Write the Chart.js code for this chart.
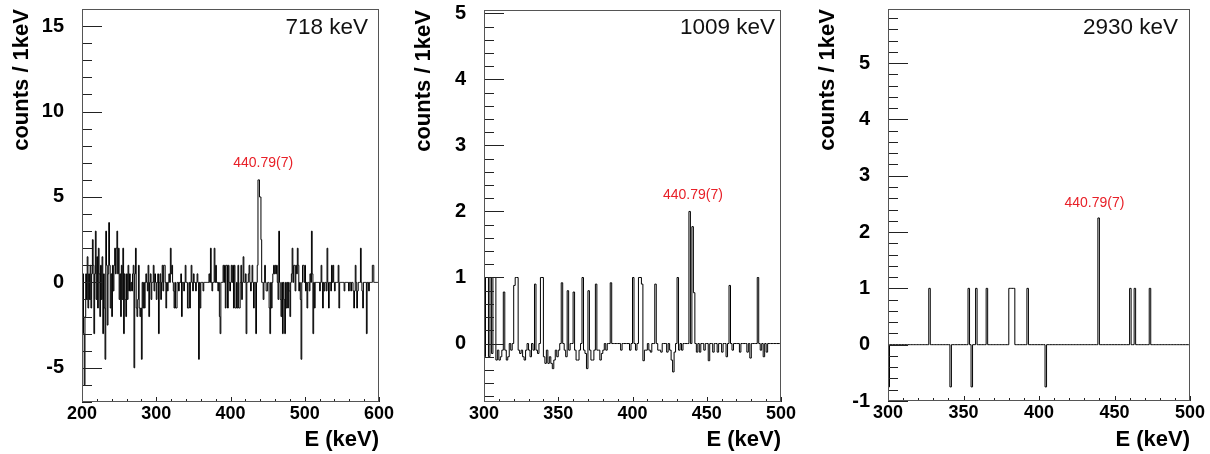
<!DOCTYPE html>
<html>
<head>
<meta charset="utf-8">
<script src="https://cdn.jsdelivr.net/npm/chart.js@4.4.1/dist/chart.umd.min.js"></script>
<style>
html, body { margin: 0; padding: 0; background: #fff; }
body { width: 1210px; height: 454px; position: relative; overflow: hidden; }
canvas { position: absolute; top: 0; }
</style>
</head>
<body>
<canvas id="c1" width="400" height="454" style="left:0px"></canvas>
<canvas id="c2" width="400" height="454" style="left:400px"></canvas>
<canvas id="c3" width="405" height="454" style="left:805px"></canvas>
<script>
// gated spectra, 1 keV bins, first bin starts at startX
const startA = 200;
const countsA = [
  -1.5, 0.5, -3, -6, -2, 0.5, -1, 1.5, -1.5, 0.5, -1, 1, -1.5, 0.5, 2.5, 1, -3, 0.5, 3, -1,      // 200
  1.5, -1.5, 2, 0.5, -2, 1, -1, 1.5, -3, 0.5, -1.5, -4.5, 3, 1, -2.5, 0.5, 3.5, 1, -1.5, 0.5,    // 220
  -2, 1, -0.5, 1, 2, 0.5, 2, 3, 0.5, 2, -1, 0.5, -2, 1, -1, 2, -3, 0.5, -1, -2,                  // 240
  0.5, -1, 1, -0.5, 0.5, -0.5, 0, -0.5, 0.5, 1, -5, 0.5, 2, -1.5, -2, -1, 1, -1.5, -2, -1.5,     // 260
  -4.5, 0, -1.5, 0, -1.5, 0, 0.5, 0, -0.5, 1, -2, 0, 0.5, -1, 0, 0, 1, -0.5, 0.5, 0,             // 280
  -1, 0, 0.5, -3, 0, 0.5, -1, 0, 1, -0.5, 1, 1, 0, -1.5, 0, -0.5, 0, 0.5, 0, 2,                  // 300
  0.5, 1, 0, -0.5, -1.5, 0, -1.5, -1.5, 0, 0, -0.5, 0, 0, 0.5, -2, 0, 0, -0.5, 0, 1,             // 320
  0, 0, -1.5, -1.5, 0, -1.5, 0, 1, 0, -0.5, 0.5, 0, 0, -0.5, 0, 0.5, 0, -4.5, 0, -1.5,           // 340
  0, 0, 0, -0.5, 0, 0, 0, 0, 0, 0, 0, 0.5, 0, 2, 0, -0.5, 0, 0, 2, 0,                            // 360
  1, 0, 0, -0.5, 0, -2, -3, 0, 0, 0, 1, 0, 1, -1.5, 1, 1, -1.5, 1, 0, -0.5,                      // 380
  0, 1, 0, 1, -1.5, 1, -1.5, -1.5, 0, -1.5, 1, -1.5, -1.5, 0, 1, -1, 0, 1.5, 0, 0,               // 400
  0.5, -3, 0, 0, 0.5, 1, 0, -0.5, 0, 1, 0, -1.5, 0, 0, -3, 0, 1, 6, 6, 5,                        // 420
  5, 2.5, 0, 0, -1, 0, 1, 0, -0.5, -0.5, 0, 0, -1.5, -3, 0, -1.5, 0, 0.5, 1, 0.5,                // 440
  1, 0.5, 1, 0, -1, 3, 0, -1, -2, 0, -3, 0, -1, -3, 0, -1.5, 0, -1.5, 0, -0.5,                   // 460
  -2, 0, 0.5, 2, 0, 1, 1, -0.5, 1, 0.5, 2, 1, -0.5, 0, -1, -4.5, 0, 1, 1, 0,                     // 480
  1, -0.5, 0, -1.5, 0, 0, -0.5, 0.5, 0, 3, 0.5, -3, 0, -1.5, 0, 0, 0, 0, 0, 0,                   // 500
  -0.5, 0, 1, 0, -1.5, 0, -0.5, 0, 0, -0.5, 2, 0, -1.5, 0, 0, -0.5, 1, 0, 1, 0,                  // 520
  -0.5, 0, 0, 0, 0, 1, -1.5, 0, 0, 0, 0, 0, 0, -0.5, 0, 0, 0, 0, 0, -0.5,                        // 540
  0, 0, -0.5, 0, 0, -0.5, -1.5, -0.5, 1, 0, -1.5, -0.5, 0, 0, 0, 2, 0, -0.5, -1.5, 0,            // 560
  0, 0, 0, -3, 0, 0, -0.5, 0, 0, 0, 0, 1, 1, 0, 0, 0, 0, 0, 0, 0                                 // 580
];

const startB = 300;
const countsB = [
  -0.2, 1, 1, -0.2, 1, -0.15, 1, 1, -0.25, -0.1, -0.25, -0.2, -0.1, 0.78, -0.1, -0.25, -0.2, 0, -0.1, 0,      // 300
  0.88, 1, 1, -0.1, -0.15, -0.1, -0.2, -0.25, -0.1, 0, -0.1, -0.2, 0, -0.1, 0.9, -0.1, -0.15, 0, 1, 1,        // 320
  -0.2, -0.3, -0.1, -0.3, -0.2, -0.3, -0.38, -0.25, -0.1, -0.2, -0.1, 0, 0.92, 0, -0.1, -0.2, 0.8, -0.1, 0, 0, // 340
  0.78, -0.1, -0.25, -0.25, -0.1, 0, 1, -0.1, -0.15, -0.38, 0.8, -0.1, -0.25, -0.25, -0.1, 0.9, -0.1, -0.1, -0.25, -0.15, // 360
  -0.1, 0, -0.1, 0, 0, 0.92, 0, 0, 0, 0, 0, 0, -0.1, 0, 0, 0, 0, 0, -0.1, 0,                   // 380
  1, 0, -0.1, 0, 1, 1, 0.9, -0.26, -0.1, -0.1, 0, -0.1, -0.13, 0, 0, 0.9, 0, -0.1, -0.1, -0.13, // 400
  0, 0, 0, -0.13, 0, -0.1, -0.25, -0.43, -0.13, 0, 1, -0.1, 0, -0.1, 0, 0, 0, 0, 2, 0,         // 420
  1.77, 0.77, 0, -0.13, 0, -0.13, 0, 0, -0.1, 0, 0, -0.26, 0, 0, -0.13, 0, 0, -0.13, 0, 0,     // 440
  -0.13, 0, 0, -0.2, 0, 0.88, 0, -0.1, 0, 0, 0, 0, -0.13, 0, 0, 0, 0, -0.13, 0, -0.22,         // 460
  0, 0, 0, 0, 1, 0, -0.1, 0, -0.2, 0, -0.13, 0, 0, 0, 0, 0, 0, 0, 0, 0                          // 480
];

const startC = 300;
const countsC = [
  -0.75, 0, 0, 0, 0, 0, 0, 0, 0, 0, 0, 0, 0, 0, 0, 0, 0, 0, 0, 0,     // 300
  0, 0, 0, 0, 0, 0, 0, 1, 0, 0, 0, 0, 0, 0, 0, 0, 0, 0, 0, 0,         // 320
  0, -0.75, 0, 0, 0, 0, 0, 0, 0, 0, 0, 0, 0, 1, 0, -0.75, 0, 0, 1, 0, // 340
  0, 0, 0, 0, 0, 1, 0, 0, 0, 0, 0, 0, 0, 0, 0, 0, 0, 0, 0, 0,         // 360
  1, 1, 1, 1, 0, 0, 0, 0, 0, 0, 0, 0, 1, 0, 0, 0, 0, 0, 0, 0,         // 380
  0, 0, 0, 0, -0.75, 0, 0, 0, 0, 0, 0, 0, 0, 0, 0, 0, 0, 0, 0, 0,     // 400
  0, 0, 0, 0, 0, 0, 0, 0, 0, 0, 0, 0, 0, 0, 0, 0, 0, 0, 0, 2.25,      // 420
  0, 0, 0, 0, 0, 0, 0, 0, 0, 0, 0, 0, 0, 0, 0, 0, 0, 0, 0, 0,         // 440
  1, 0, 0, 1, 0, 0, 0, 0, 0, 0, 0, 0, 0, 1, 0, 0, 0, 0, 0, 0,         // 460
  0, 0, 0, 0, 0, 0, 0, 0, 0, 0, 0, 0, 0, 0, 0, 0, 0, 0, 0, 0          // 480
];

// tick labels
const xTicksA = [200, 300, 400, 500, 600];
const xTicksBC = [300, 350, 400, 450, 500];
const yTicksA = [-5, 0, 5, 10, 15];
const yTicksB = [0, 1, 2, 3, 4, 5];
const yTicksC = [-1, 0, 1, 2, 3, 4, 5];

const gateLabels = ['718 keV', '1009 keV', '2930 keV'];
const peakLabel = '440.79(7)';

const FONT = '"Liberation Sans", Arial, Helvetica, sans-serif';

function histogram(start, counts) {
  const pts = counts.map((c, i) => ({ x: start + i, y: c }));
  pts.push({ x: start + counts.length, y: counts[counts.length - 1] });
  return pts;
}

// ROOT-like frame, inward ticks and the in-pad texts
const rootFrame = {
  id: 'rootFrame',
  afterDatasetsDraw(chart, args, o) {
    const { ctx, chartArea: a, scales: { x, y } } = chart;
    ctx.save();
    ctx.lineWidth = 1;
    ctx.strokeStyle = '#222';
    ctx.beginPath();
    const eps = 1e-6;
    for (let k = Math.ceil(y.min / o.yMinor - eps); k * o.yMinor <= y.max + eps; k++) {
      const v = k * o.yMinor;
      const major = o.yMajor.some(m => Math.abs(m - v) < eps);
      const py = Math.round(y.getPixelForValue(v)) + 0.5;
      ctx.moveTo(a.left, py);
      ctx.lineTo(a.left + (major ? 20 : 10), py);
    }
    for (let k = Math.ceil(x.min / o.xMinor - eps); k * o.xMinor <= x.max + eps; k++) {
      const v = k * o.xMinor;
      const major = o.xMajor.some(m => Math.abs(m - v) < eps);
      const px = Math.round(x.getPixelForValue(v)) + 0.5;
      ctx.moveTo(px, a.bottom);
      ctx.lineTo(px, a.bottom - (major ? 5 : 3));
    }
    ctx.stroke();
    ctx.strokeStyle = '#555';
    ctx.strokeRect(Math.round(a.left) + 0.5, Math.round(a.top) + 0.5,
      Math.round(a.width) - 1, Math.round(a.height) - 1);

    ctx.fillStyle = '#111';
    ctx.font = '22.5px ' + FONT;
    ctx.textAlign = 'right';
    ctx.textBaseline = 'middle';
    ctx.fillText(o.gate, a.right - o.gateDx, a.top + o.gateDy);

    ctx.fillStyle = 'rgb(232,32,40)';
    ctx.font = '14px ' + FONT;
    ctx.textAlign = 'center';
    ctx.fillText(peakLabel, x.getPixelForValue(o.peakAt[0]), y.getPixelForValue(o.peakAt[1]));
    ctx.restore();
  }
};

function makePanel(id, p) {
  return new Chart(document.getElementById(id), {
    type: 'line',
    data: {
      datasets: [{
        data: histogram(p.start, p.counts),
        stepped: true,
        borderColor: '#000',
        borderWidth: 1,
        pointRadius: 0,
        fill: false
      }]
    },
    options: {
      responsive: false,
      animation: false,
      events: [],
      layout: { padding: { top: p.top, right: p.right, left: 0, bottom: 0 } },
      plugins: {
        legend: { display: false },
        tooltip: { enabled: false },
        rootFrame: {
          yMajor: p.yTicks, yMinor: p.yMinor, xMajor: p.xTicks, xMinor: p.xMinor,
          gate: p.gate, gateDx: p.gateDx, gateDy: p.gateDy, peakAt: p.peakAt
        }
      },
      scales: {
        x: {
          type: 'linear', min: p.xTicks[0], max: p.xTicks[p.xTicks.length - 1],
          grid: { display: false, drawTicks: false }, border: { display: false },
          afterBuildTicks: s => { s.ticks = p.xTicks.map(v => ({ value: v })); },
          ticks: { font: { family: FONT, size: 18, weight: 'bold' }, color: '#000', padding: 1, maxRotation: 0, autoSkip: false },
          title: { display: true, text: 'E (keV)', align: 'end', color: '#000',
                   font: { family: FONT, size: 22, weight: 'bold' }, padding: { top: 0, bottom: 1 } },
          afterFit: s => { s.height = p.xh; s.paddingLeft = 0; s.paddingRight = 0; }
        },
        y: {
          min: p.yMin, max: p.yMax,
          grid: { display: false, drawTicks: false }, border: { display: false },
          afterBuildTicks: s => { s.ticks = p.yTicks.map(v => ({ value: v })); },
          ticks: { font: { family: FONT, size: 20, weight: 'bold' }, color: '#000', padding: 18, autoSkip: false },
          title: { display: true, text: 'counts / 1keV', align: 'end', color: '#000',
                   font: { family: FONT, size: 22, weight: 'bold' }, padding: { top: p.titlePad, bottom: 0 } },
          afterFit: s => { s.width = p.yw; s.paddingTop = 0; s.paddingBottom = 0; }
        }
      }
    },
    plugins: [rootFrame]
  });
}

makePanel('c1', {
  start: startA, counts: countsA, xTicks: xTicksA, xMinor: 20,
  yTicks: yTicksA, yMinor: 1, yMin: -7, yMax: 16,
  top: 9, right: 21, xh: 52, yw: 82, titlePad: 9,
  gate: gateLabels[0], gateDx: 11, gateDy: 19, peakAt: [444, 6.95]
});
makePanel('c2', {
  start: startB, counts: countsB, xTicks: xTicksBC, xMinor: 10,
  yTicks: yTicksB, yMinor: 0.2, yMin: -0.885, yMax: 5.05,
  top: 10, right: 19, xh: 52, yw: 84, titlePad: 11,
  gate: gateLabels[1], gateDx: 6, gateDy: 18, peakAt: [440.7, 2.25]
});
makePanel('c3', {
  start: startC, counts: countsC, xTicks: xTicksBC, xMinor: 10,
  yTicks: yTicksC, yMinor: 0.2, yMin: -1, yMax: 5.96,
  top: 9, right: 20, xh: 53, yw: 83, titlePad: 10,
  gate: gateLabels[2], gateDx: 12, gateDy: 19, peakAt: [436.7, 2.51]
});
</script>
</body>
</html>
